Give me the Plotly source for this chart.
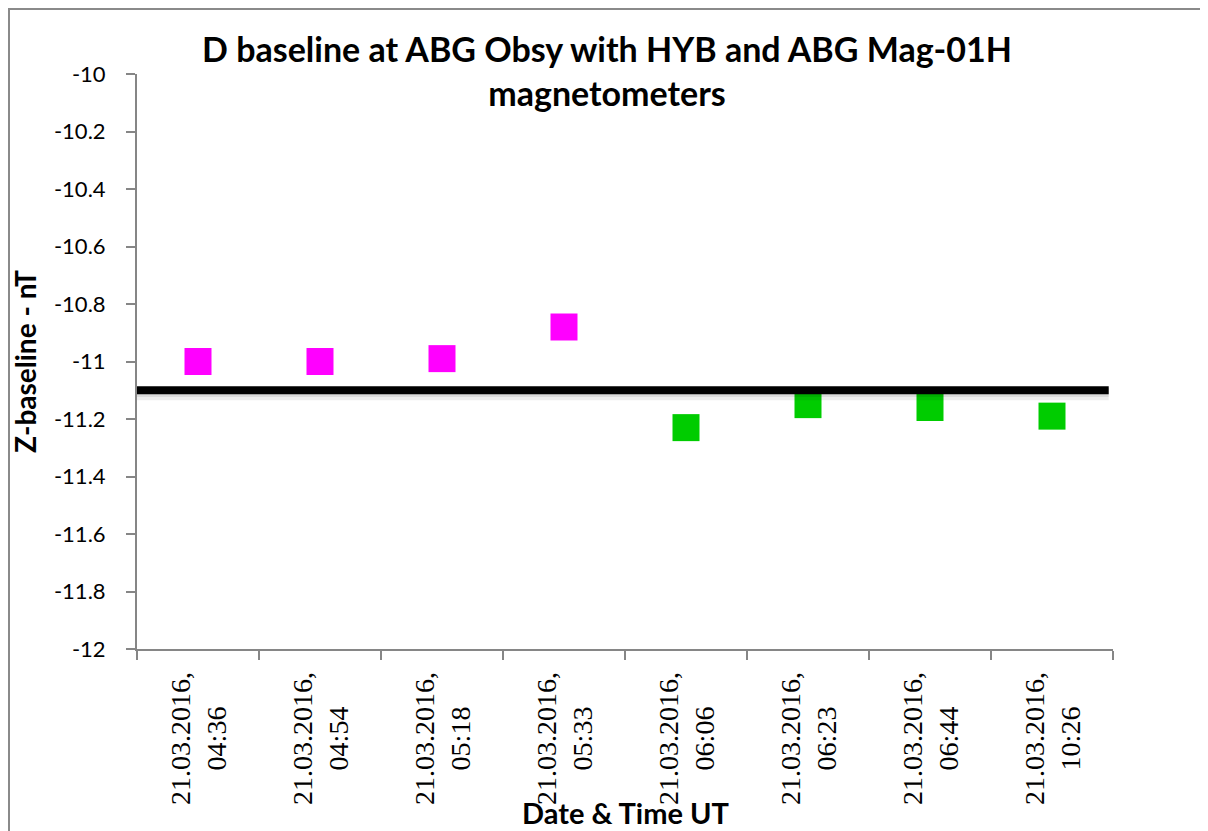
import plotly.graph_objects as go

categories = ["21.03.2016,<br>04:36", "21.03.2016,<br>04:54", "21.03.2016,<br>05:18",
              "21.03.2016,<br>05:33", "21.03.2016,<br>06:06", "21.03.2016,<br>06:23",
              "21.03.2016,<br>06:44", "21.03.2016,<br>10:26"]
hyb_cats = categories[:4]
hyb_values = [-11.00, -11.00, -10.99, -10.88]
mag_cats = categories[4:]
mag_values = [-11.23, -11.15, -11.16, -11.19]
baseline_value = -11.1
baseline_span = [0.0, 0.9956]
y_ticks = [-10, -10.2, -10.4, -10.6, -10.8, -11, -11.2, -11.4, -11.6, -11.8, -12]

OFF = 8  # page body margin
W, H = 1208 - OFF, 831 - OFF
L, T = 137 - OFF, 74 - OFF
pw, ph = 976, 575
R, B = W - L - pw, H - T - ph

fig = go.Figure()

# baseline shadow + line on overlay linear axis
fig.add_trace(go.Scatter(x=baseline_span, y=[baseline_value - 0.014] * 2, xaxis="x2",
                         mode="lines", line=dict(color="rgba(0,0,0,0.07)", width=12),
                         hoverinfo="skip", showlegend=False))
fig.add_trace(go.Scatter(x=baseline_span, y=[baseline_value - 0.008] * 2, xaxis="x2",
                         mode="lines", line=dict(color="rgba(0,0,0,0.08)", width=9),
                         hoverinfo="skip", showlegend=False))
fig.add_trace(go.Scatter(x=baseline_span, y=[baseline_value] * 2, xaxis="x2",
                         mode="lines", line=dict(color="black", width=8),
                         showlegend=False))

fig.add_trace(go.Scatter(x=hyb_cats, y=hyb_values, mode="markers",
                         marker=dict(symbol="square", size=27, color="#FF00FF", line=dict(width=0)),
                         showlegend=False))
fig.add_trace(go.Scatter(x=mag_cats, y=mag_values, mode="markers",
                         marker=dict(symbol="square", size=27, color="#00CC00", line=dict(width=0)),
                         showlegend=False))

axis_color = "#868686"

annotations = []
for c in categories:
    annotations.append(dict(x=c, xref="x", y=(649 - 739) / ph, yref="paper",
                            text=c, showarrow=False, textangle=-90, align="center",
                            xanchor="center", yanchor="middle",
                            font=dict(family="Liberation Serif, Times New Roman, serif",
                                      size=28, color="black")))

annotations.append(dict(x=0.5, xref="paper", y=(649 - 812) / ph, yref="paper",
                        text="<b>Date & Time UT</b>", showarrow=False,
                        xanchor="center", yanchor="middle",
                        font=dict(family="Lato", size=29, color="black")))

fig.update_layout(
    width=W, height=H,
    margin=dict(l=L, r=R, t=T, b=B, autoexpand=False),
    paper_bgcolor="white", plot_bgcolor="white",
    title=dict(text="<b>D baseline at ABG Obsy with HYB and ABG Mag-01H<br>magnetometers</b>",
               x=(607 - OFF) / W, xref="container", xanchor="center",
               y=1 - (62 - OFF) / H, yanchor="middle",
               font=dict(family="Lato", size=34, color="black"), automargin=False),
    xaxis=dict(type="category", categoryorder="array", categoryarray=categories,
               range=[-0.5, len(categories) - 0.5],
               showline=True, linecolor=axis_color, linewidth=2,
               ticks="outside", tickson="boundaries", ticklen=9, tickcolor=axis_color, tickwidth=2,
               showticklabels=False, showgrid=False, zeroline=False, fixedrange=True,
               automargin=False),
    xaxis2=dict(overlaying="x", range=[0, 1], visible=False, fixedrange=True),
    yaxis=dict(range=[-12, -10], tickvals=y_ticks, ticktext=[f"{v:g}" for v in y_ticks],
               showline=True, linecolor=axis_color, linewidth=2,
               ticks="outside", ticklen=9, tickcolor=axis_color, tickwidth=2,
               ticklabelstandoff=16,
               tickfont=dict(family="Lato", size=22, color="black"),
               showgrid=False, zeroline=False, automargin=False,
               title=dict(text="<b>Z-baseline - nT</b>", standoff=14,
                          font=dict(family="Lato", size=28, color="black")),
               fixedrange=True),
    annotations=annotations,
    shapes=[dict(type="rect", xref="paper", yref="paper",
                 x0=(1 - L) / pw, x1=(W - 1 - L) / pw,
                 y0=-(B + 10) / ph, y1=(T - 1) / ph + 1,
                 line=dict(color="#8a8a8a", width=2), fillcolor="rgba(0,0,0,0)", layer="below")],
)

fig.write_html("out.html")
